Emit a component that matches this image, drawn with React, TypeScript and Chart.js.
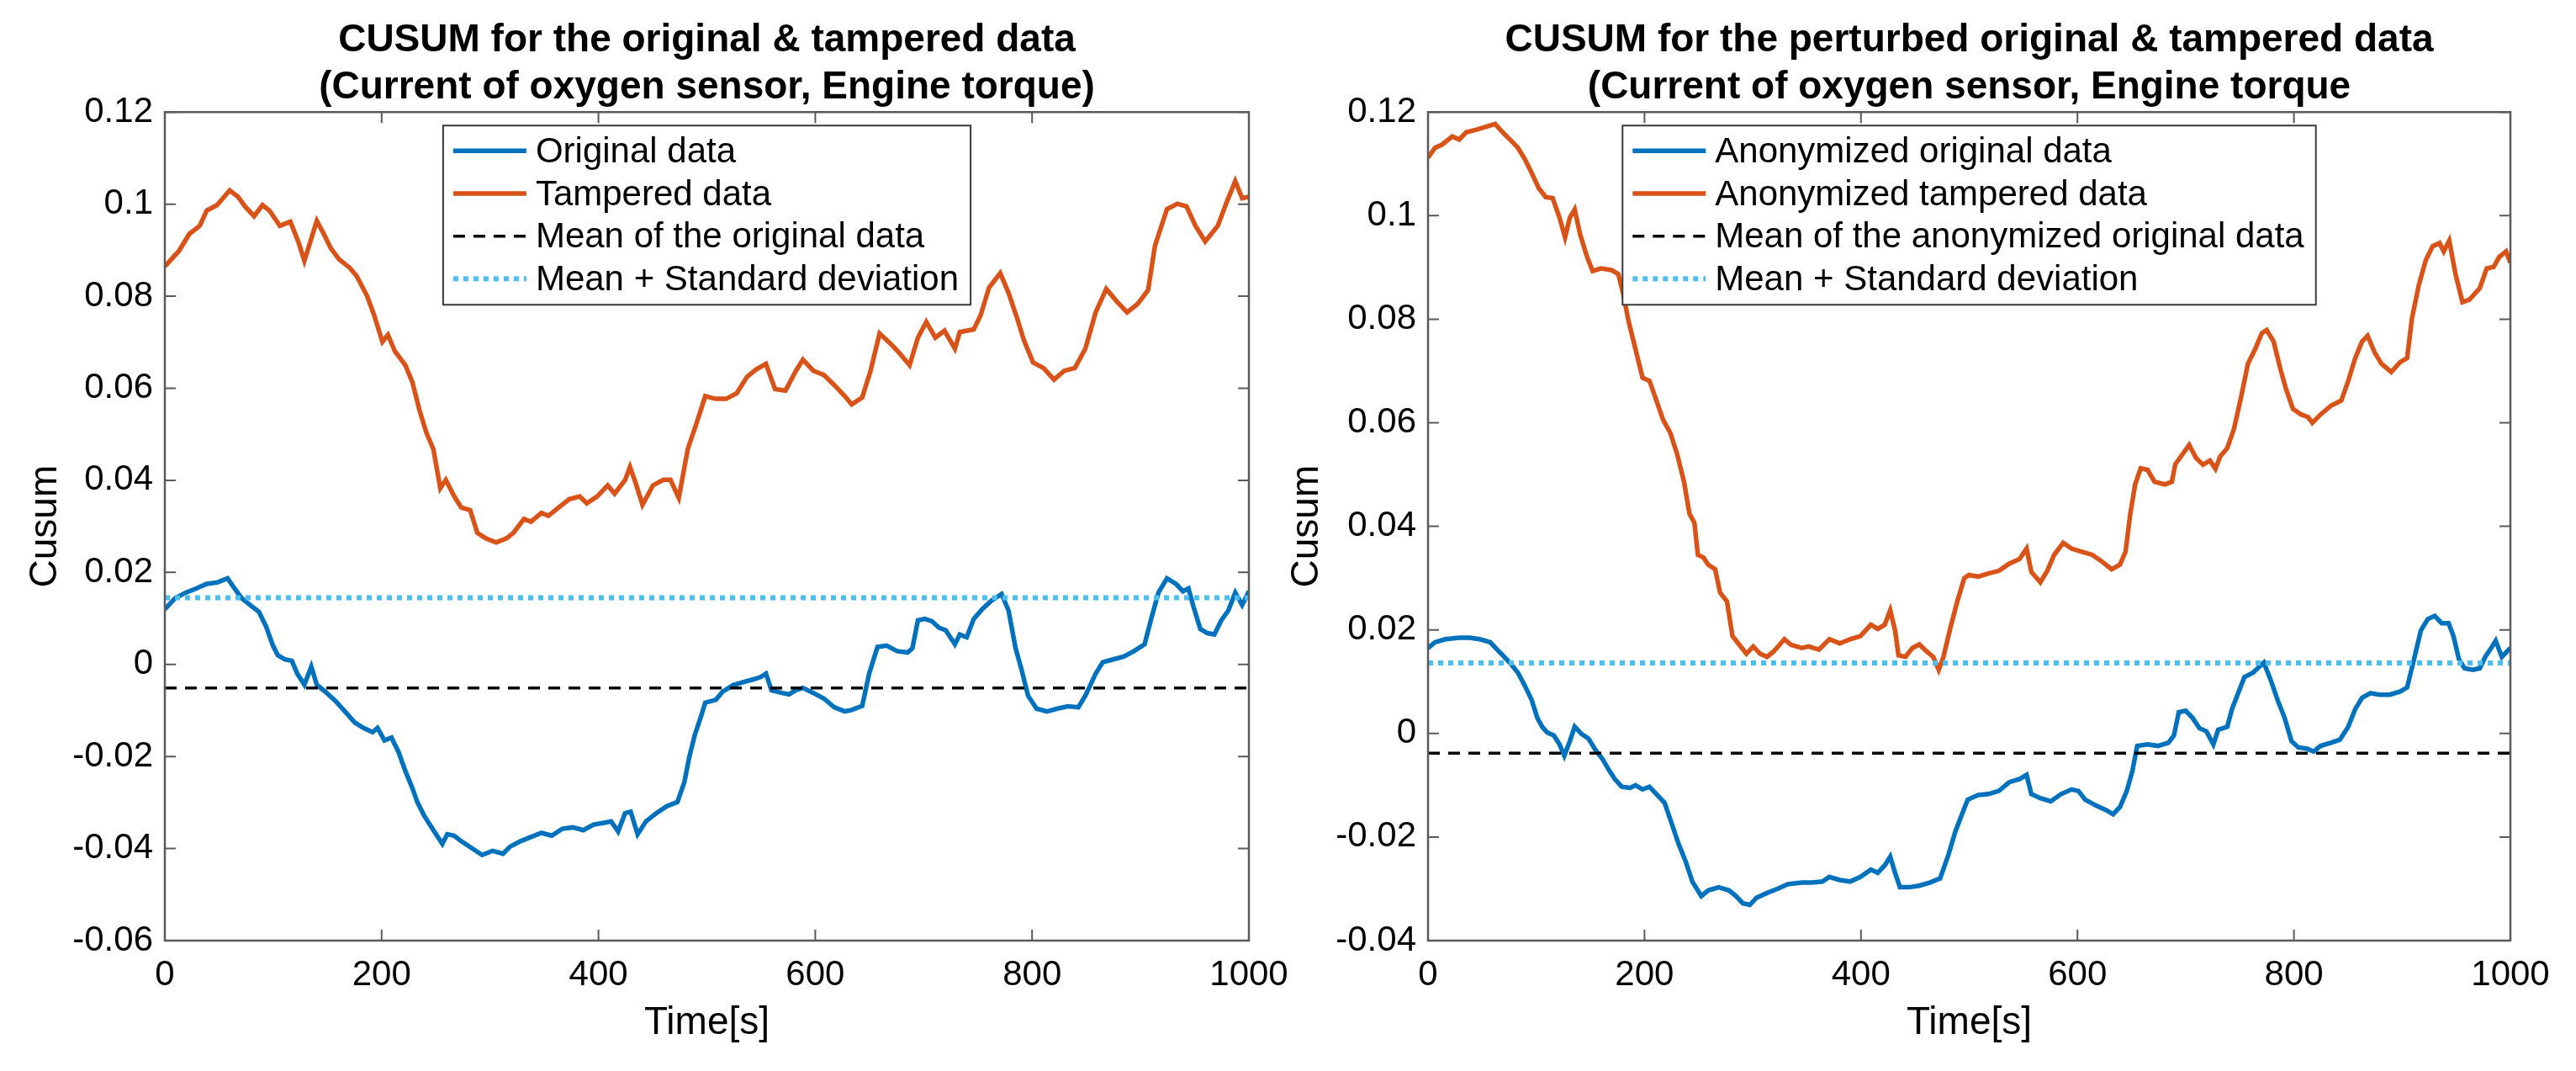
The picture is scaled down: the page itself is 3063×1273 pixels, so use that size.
import React, { useEffect, useRef } from "react";
import { Chart, registerables } from "chart.js";

Chart.register(...registerables);

const FONT = "'Liberation Sans', Arial, Helvetica, sans-serif";

// ---------- axis ticks ----------
const xTicks = [0, 200, 400, 600, 800, 1000];
const leftYTicks = [-0.06, -0.04, -0.02, 0, 0.02, 0.04, 0.06, 0.08, 0.1, 0.12];
const rightYTicks = [-0.04, -0.02, 0, 0.02, 0.04, 0.06, 0.08, 0.1, 0.12];

// ---------- left plot: original & tampered ----------
const leftOriginalTime = [0, 9.6, 19.3, 28.9, 38.6, 48.2, 57.9, 64.3, 70.8, 80.4, 86.8, 93.3, 99.7, 104.2, 110.6, 117.1, 122.2, 128.7, 135.1, 140.2, 147.9, 157.6, 167.2, 175.0, 183.3, 191.7, 196.2, 202.6, 209.1, 215.5, 221.9, 228.4, 232.9, 239.3, 247.7, 256.0, 260.5, 266.9, 273.4, 283.0, 292.7, 302.3, 312.0, 318.4, 328.1, 337.7, 347.4, 357.0, 366.7, 376.3, 386.0, 395.6, 405.2, 411.7, 418.1, 424.6, 429.7, 436.1, 443.8, 453.5, 463.1, 472.8, 479.2, 483.7, 488.9, 494.0, 498.5, 508.2, 514.6, 524.3, 533.9, 543.6, 550.0, 554.5, 559.6, 569.3, 575.7, 582.1, 588.6, 598.2, 607.9, 617.5, 627.2, 633.6, 643.3, 649.7, 657.4, 665.8, 675.4, 685.1, 689.6, 694.7, 701.1, 707.6, 714.0, 720.4, 728.8, 733.3, 739.7, 746.2, 753.9, 762.3, 771.9, 778.3, 784.8, 789.9, 796.3, 804.1, 813.7, 823.4, 833.0, 842.7, 849.1, 858.7, 865.2, 874.8, 884.5, 894.1, 903.8, 910.2, 916.6, 924.4, 932.7, 939.2, 944.3, 948.8, 955.2, 961.7, 968.1, 974.6, 981.0, 987.4, 993.8, 1000];
const leftOriginalCusum = [0.0120, 0.0144, 0.0156, 0.0165, 0.0175, 0.0178, 0.0187, 0.0165, 0.0144, 0.0126, 0.0114, 0.0083, 0.0041, 0.0020, 0.0011, 0.0008, -0.0020, -0.0044, -0.0005, -0.0044, -0.0059, -0.0080, -0.0105, -0.0126, -0.0138, -0.0147, -0.0138, -0.0165, -0.0159, -0.0190, -0.0232, -0.0269, -0.0299, -0.0329, -0.0360, -0.0390, -0.0369, -0.0372, -0.0384, -0.0399, -0.0414, -0.0405, -0.0411, -0.0396, -0.0384, -0.0375, -0.0366, -0.0372, -0.0357, -0.0354, -0.0360, -0.0348, -0.0344, -0.0341, -0.0363, -0.0323, -0.0320, -0.0369, -0.0341, -0.0323, -0.0308, -0.0299, -0.0256, -0.0202, -0.0153, -0.0117, -0.0083, -0.0077, -0.0059, -0.0045, -0.0038, -0.0032, -0.0027, -0.0020, -0.0056, -0.0062, -0.0065, -0.0056, -0.0051, -0.0062, -0.0074, -0.0093, -0.0102, -0.0099, -0.0090, -0.0020, 0.0038, 0.0041, 0.0029, 0.0026, 0.0035, 0.0096, 0.0099, 0.0094, 0.0080, 0.0074, 0.0044, 0.0065, 0.0059, 0.0099, 0.0120, 0.0138, 0.0153, 0.0117, 0.0035, -0.0008, -0.0068, -0.0096, -0.0102, -0.0096, -0.0091, -0.0093, -0.0068, -0.0020, 0.0005, 0.0011, 0.0017, 0.0029, 0.0044, 0.0102, 0.0156, 0.0187, 0.0175, 0.0159, 0.0165, 0.0126, 0.0077, 0.0068, 0.0065, 0.0096, 0.0117, 0.0156, 0.0129, 0.0159];

const leftTamperedTime = [0, 12.9, 22.5, 32.2, 38.6, 48.2, 59.8, 67.5, 74.0, 82.3, 90.1, 96.5, 106.1, 115.8, 123.5, 128.7, 135.1, 140.2, 146.7, 153.1, 160.8, 170.5, 176.9, 186.5, 193.0, 200.7, 205.8, 212.3, 221.9, 228.4, 234.8, 241.2, 247.7, 254.1, 259.2, 267.0, 273.4, 281.7, 288.2, 295.9, 305.6, 315.2, 321.6, 331.3, 337.7, 347.4, 353.8, 363.4, 373.1, 382.7, 389.2, 398.8, 408.5, 414.9, 424.6, 429.1, 434.2, 440.6, 450.3, 459.9, 466.4, 474.1, 482.4, 490.2, 498.5, 508.2, 517.8, 527.5, 537.1, 545.5, 554.5, 562.9, 572.5, 582.2, 588.6, 598.2, 607.9, 617.5, 627.2, 633.6, 643.3, 651.0, 659.3, 669.0, 678.6, 687.0, 694.7, 702.4, 710.8, 719.2, 728.8, 733.3, 746.2, 752.6, 760.3, 770.6, 778.3, 786.1, 792.5, 800.9, 810.5, 820.2, 829.8, 839.5, 849.1, 858.7, 868.4, 878.0, 887.7, 897.3, 907.0, 913.4, 924.4, 934.0, 942.4, 950.7, 959.7, 971.3, 979.0, 987.4, 993.8, 1000];
const leftTamperedCusum = [0.0865, 0.0898, 0.0935, 0.0953, 0.0986, 0.0998, 0.1030, 0.1016, 0.0995, 0.0974, 0.0998, 0.0986, 0.0953, 0.0962, 0.0916, 0.0877, 0.0925, 0.0964, 0.0935, 0.0904, 0.0880, 0.0862, 0.0844, 0.0801, 0.0759, 0.0701, 0.0716, 0.0680, 0.0650, 0.0613, 0.0553, 0.0504, 0.0468, 0.0383, 0.0401, 0.0365, 0.0341, 0.0335, 0.0286, 0.0274, 0.0265, 0.0274, 0.0286, 0.0316, 0.0310, 0.0329, 0.0323, 0.0341, 0.0359, 0.0365, 0.0350, 0.0365, 0.0389, 0.0371, 0.0401, 0.0429, 0.0395, 0.0347, 0.0389, 0.0401, 0.0401, 0.0362, 0.0468, 0.0522, 0.0583, 0.0577, 0.0577, 0.0589, 0.0625, 0.0641, 0.0653, 0.0598, 0.0595, 0.0638, 0.0662, 0.0638, 0.0629, 0.0607, 0.0583, 0.0565, 0.0580, 0.0638, 0.0719, 0.0698, 0.0674, 0.0650, 0.0710, 0.0744, 0.0710, 0.0725, 0.0686, 0.0722, 0.0728, 0.0759, 0.0819, 0.0850, 0.0807, 0.0753, 0.0704, 0.0656, 0.0644, 0.0619, 0.0638, 0.0644, 0.0686, 0.0765, 0.0816, 0.0789, 0.0765, 0.0783, 0.0813, 0.0910, 0.0989, 0.1001, 0.0995, 0.0953, 0.0919, 0.0953, 0.1001, 0.1050, 0.1013, 0.1016];

const leftMean = -0.0051;
const leftMeanPlusStd = 0.0145;

// ---------- right plot: perturbed (anonymized) original & tampered ----------
const rightOriginalTime = [0, 6.4, 16.0, 28.8, 38.4, 47.9, 57.5, 63.9, 70.3, 76.7, 83.1, 89.5, 95.9, 101.0, 105.5, 110.0, 116.3, 121.5, 125.9, 131.0, 135.5, 141.9, 148.3, 154.7, 161.1, 167.5, 172.6, 179.0, 186.7, 191.8, 198.2, 204.6, 211.0, 218.6, 225.0, 231.4, 237.8, 244.2, 252.5, 258.9, 268.5, 278.1, 284.5, 290.9, 297.3, 303.6, 313.2, 322.8, 332.4, 345.2, 354.8, 364.4, 370.8, 380.4, 389.9, 399.5, 409.1, 415.5, 421.9, 427.0, 431.5, 436.0, 444.3, 453.9, 463.5, 473.1, 480.7, 487.1, 492.2, 498.6, 508.2, 517.8, 527.4, 537.0, 546.6, 553.0, 557.4, 565.7, 575.3, 584.9, 594.5, 600.9, 607.3, 616.9, 626.5, 632.9, 639.3, 645.6, 650.8, 655.2, 664.8, 674.4, 684.0, 689.1, 693.6, 700.0, 706.4, 712.8, 719.2, 725.6, 730.0, 738.4, 742.8, 747.9, 754.3, 762.0, 772.2, 778.6, 785.0, 791.4, 797.8, 804.2, 811.8, 818.2, 824.6, 834.2, 842.5, 850.2, 856.6, 863.0, 870.7, 879.0, 888.6, 898.2, 904.6, 910.9, 917.3, 923.7, 930.1, 936.5, 942.9, 947.4, 952.5, 957.6, 965.3, 971.7, 976.8, 981.3, 986.4, 992.1, 1000];
const rightOriginalCusum = [0.0165, 0.0176, 0.0182, 0.0185, 0.0185, 0.0182, 0.0176, 0.0162, 0.0148, 0.0134, 0.0117, 0.0092, 0.0064, 0.0030, 0.0013, 0.0002, -0.0004, -0.0021, -0.0043, -0.0015, 0.0013, -0.0001, -0.0010, -0.0032, -0.0049, -0.0072, -0.0088, -0.0103, -0.0105, -0.0100, -0.0108, -0.0103, -0.0117, -0.0134, -0.0173, -0.0213, -0.0246, -0.0286, -0.0314, -0.0303, -0.0297, -0.0303, -0.0314, -0.0328, -0.0331, -0.0317, -0.0308, -0.0300, -0.0291, -0.0288, -0.0288, -0.0286, -0.0277, -0.0283, -0.0286, -0.0277, -0.0263, -0.0269, -0.0255, -0.0238, -0.0269, -0.0297, -0.0297, -0.0294, -0.0288, -0.0280, -0.0235, -0.0190, -0.0162, -0.0128, -0.0119, -0.0117, -0.0111, -0.0094, -0.0088, -0.0080, -0.0117, -0.0125, -0.0131, -0.0117, -0.0108, -0.0111, -0.0128, -0.0139, -0.0148, -0.0156, -0.0142, -0.0111, -0.0072, -0.0024, -0.0021, -0.0024, -0.0018, -0.0004, 0.0041, 0.0044, 0.0030, 0.0010, 0.0004, -0.0021, 0.0007, 0.0013, 0.0047, 0.0075, 0.0109, 0.0117, 0.0137, 0.0103, 0.0064, 0.0030, -0.0015, -0.0027, -0.0029, -0.0035, -0.0024, -0.0018, -0.0012, 0.0013, 0.0047, 0.0069, 0.0078, 0.0075, 0.0075, 0.0081, 0.0089, 0.0143, 0.0199, 0.0221, 0.0227, 0.0213, 0.0213, 0.0188, 0.0143, 0.0126, 0.0123, 0.0126, 0.0148, 0.0162, 0.0179, 0.0148, 0.0165];

const rightTamperedTime = [0, 6.4, 12.8, 22.4, 28.8, 35.2, 44.7, 54.3, 62.0, 70.3, 76.7, 83.1, 89.5, 95.9, 102.3, 108.7, 115.1, 121.5, 126.6, 131.0, 135.5, 140.6, 147.0, 152.1, 159.8, 169.4, 175.8, 180.3, 185.4, 191.8, 198.2, 204.6, 211.0, 217.3, 223.7, 230.1, 236.5, 241.6, 246.1, 249.3, 254.4, 258.9, 265.3, 269.8, 276.2, 281.3, 287.7, 294.1, 300.5, 306.8, 313.2, 319.6, 329.2, 335.6, 345.2, 351.6, 361.2, 370.8, 380.4, 389.9, 399.5, 409.1, 415.5, 421.9, 427.0, 431.5, 434.7, 441.1, 447.5, 453.9, 460.3, 466.7, 471.8, 476.2, 482.6, 489.0, 495.4, 499.9, 508.2, 517.8, 527.4, 537.0, 546.6, 553.0, 557.4, 565.7, 572.1, 578.5, 586.8, 594.5, 604.1, 613.7, 623.3, 631.6, 639.3, 644.4, 648.8, 653.3, 658.4, 664.8, 671.2, 680.8, 687.2, 690.4, 703.2, 709.6, 716.0, 722.4, 727.5, 731.9, 738.4, 744.7, 751.1, 757.5, 763.9, 770.3, 774.8, 781.2, 787.6, 792.7, 799.1, 806.7, 813.1, 817.0, 824.6, 834.2, 843.8, 850.2, 856.6, 863.0, 868.1, 874.5, 880.9, 889.9, 898.2, 904.6, 909.0, 915.4, 921.8, 928.2, 934.6, 938.4, 943.5, 949.3, 955.7, 962.1, 971.7, 978.1, 984.5, 989.6, 996.0, 1000];
const rightTamperedCusum = [0.1112, 0.1131, 0.1137, 0.1153, 0.1147, 0.1161, 0.1166, 0.1172, 0.1177, 0.1158, 0.1145, 0.1131, 0.1109, 0.1082, 0.1053, 0.1036, 0.1034, 0.0996, 0.0958, 0.0996, 0.1012, 0.0963, 0.0920, 0.0893, 0.0898, 0.0895, 0.0887, 0.0849, 0.0795, 0.0741, 0.0687, 0.0681, 0.0643, 0.0605, 0.0581, 0.0540, 0.0486, 0.0424, 0.0407, 0.0345, 0.0340, 0.0326, 0.0317, 0.0272, 0.0255, 0.0188, 0.0171, 0.0154, 0.0168, 0.0154, 0.0148, 0.0159, 0.0182, 0.0171, 0.0165, 0.0168, 0.0162, 0.0182, 0.0174, 0.0182, 0.0188, 0.0210, 0.0202, 0.0210, 0.0238, 0.0199, 0.0151, 0.0148, 0.0165, 0.0172, 0.0159, 0.0148, 0.0123, 0.0148, 0.0204, 0.0255, 0.0300, 0.0306, 0.0303, 0.0309, 0.0314, 0.0328, 0.0337, 0.0357, 0.0312, 0.0292, 0.0314, 0.0345, 0.0368, 0.0357, 0.0351, 0.0345, 0.0331, 0.0317, 0.0326, 0.0351, 0.0424, 0.0481, 0.0512, 0.0509, 0.0486, 0.0481, 0.0486, 0.0520, 0.0557, 0.0532, 0.0519, 0.0527, 0.0511, 0.0535, 0.0551, 0.0589, 0.0649, 0.0714, 0.0741, 0.0773, 0.0779, 0.0757, 0.0703, 0.0665, 0.0627, 0.0616, 0.0611, 0.0600, 0.0616, 0.0633, 0.0643, 0.0681, 0.0725, 0.0757, 0.0768, 0.0736, 0.0714, 0.0698, 0.0717, 0.0725, 0.0801, 0.0866, 0.0914, 0.0941, 0.0947, 0.0931, 0.0952, 0.0887, 0.0833, 0.0838, 0.0860, 0.0898, 0.0901, 0.0920, 0.0931, 0.0909];

const rightMean = -0.0038;
const rightMeanPlusStd = 0.0136;

// ---------- texts ----------
const leftTitle = ["CUSUM for the original & tampered data", "(Current of oxygen sensor, Engine torque)"];
const rightTitle = ["CUSUM for the perturbed original & tampered data", "(Current of oxygen sensor, Engine torque"];
const leftLabels = ["Original data", "Tampered data", "Mean of the original data", "Mean + Standard deviation"];
const rightLabels = ["Anonymized original data", "Anonymized tampered data", "Mean of the anonymized original data", "Mean + Standard deviation"];
const xAxisTitle = "Time[s]";
const yAxisTitle = "Cusum";

// ---------- helpers ----------
const zip = (t: number[], v: number[]) => t.map((x, i) => ({ x, y: v[i] }));
const fmt = (v: number) => String(Math.round(v * 100) / 100);

const AXIS_COLOR = "#5a5a5a";

const matlabPlugin = {
  id: "matlabFrameLegend",
  beforeDatasetsDraw(chart: any) {
    const { ctx, chartArea: a, scales } = chart;
    ctx.save();
    ctx.strokeStyle = AXIS_COLOR;
    ctx.lineWidth = 2;
    const tl = 13;
    scales.x.ticks.forEach((t: any) => {
      const px = scales.x.getPixelForValue(t.value);
      ctx.beginPath();
      ctx.moveTo(px, a.bottom);
      ctx.lineTo(px, a.bottom - tl);
      ctx.moveTo(px, a.top);
      ctx.lineTo(px, a.top + tl);
      ctx.stroke();
    });
    scales.y.ticks.forEach((t: any) => {
      const py = scales.y.getPixelForValue(t.value);
      ctx.beginPath();
      ctx.moveTo(a.left, py);
      ctx.lineTo(a.left + tl, py);
      ctx.moveTo(a.right, py);
      ctx.lineTo(a.right - tl, py);
      ctx.stroke();
    });
    ctx.restore();
  },
  afterDatasetsDraw(chart: any) {
    const { ctx, chartArea: a } = chart;
    ctx.save();
    ctx.strokeStyle = AXIS_COLOR;
    ctx.lineWidth = 2.5;
    ctx.strokeRect(a.left, a.top, a.right - a.left, a.bottom - a.top);

    // legend (location: north)
    const ds = chart.data.datasets;
    ctx.font = `42px ${FONT}`;
    const maxW = Math.max(...ds.map((d: any) => ctx.measureText(d.label).width));
    const padL = 12, sample = 87, gap = 11, padR = 14;
    const w = padL + sample + gap + maxW + padR;
    const h = 213;
    const x0 = (a.left + a.right) / 2 - w / 2;
    const y0 = a.top + 16;
    ctx.fillStyle = "#ffffff";
    ctx.fillRect(x0, y0, w, h);
    ctx.strokeStyle = "#3a3a3a";
    ctx.lineWidth = 2;
    ctx.strokeRect(x0, y0, w, h);
    ds.forEach((d: any, i: number) => {
      const cy = y0 + 30 + i * 50.7;
      ctx.beginPath();
      ctx.setLineDash(d.borderDash || []);
      ctx.lineCap = "butt";
      ctx.lineWidth = d.borderWidth;
      ctx.strokeStyle = d.borderColor;
      ctx.moveTo(x0 + padL, cy);
      ctx.lineTo(x0 + padL + sample, cy);
      ctx.stroke();
      ctx.setLineDash([]);
      ctx.fillStyle = "#000000";
      ctx.textBaseline = "middle";
      ctx.textAlign = "left";
      ctx.fillText(d.label, x0 + padL + sample + gap, cy + 2);
    });
    ctx.restore();
  },
};

type Spec = {
  title: string[];
  labels: string[];
  origT: number[];
  origV: number[];
  tampT: number[];
  tampV: number[];
  mean: number;
  meanStd: number;
  yTicks: number[];
  yWidth: number;
  padRight: number;
};

function makeConfig(s: Spec): any {
  const yMin = s.yTicks[0];
  const yMax = s.yTicks[s.yTicks.length - 1];
  return {
    type: "line",
    data: {
      datasets: [
        { label: s.labels[0], data: zip(s.origT, s.origV), borderColor: "#0072BD", borderWidth: 5.5, pointRadius: 0, tension: 0, order: 4 },
        { label: s.labels[1], data: zip(s.tampT, s.tampV), borderColor: "#D95319", borderWidth: 5.5, pointRadius: 0, tension: 0, order: 3 },
        { label: s.labels[2], data: [{ x: 0, y: s.mean }, { x: 1000, y: s.mean }], borderColor: "#000000", borderWidth: 3.5, borderDash: [14, 10], pointRadius: 0, order: 2 },
        { label: s.labels[3], data: [{ x: 0, y: s.meanStd }, { x: 1000, y: s.meanStd }], borderColor: "#4DBEEE", borderWidth: 6, borderDash: [6, 6], pointRadius: 0, order: 1 },
      ],
    },
    options: {
      animation: false,
      responsive: true,
      maintainAspectRatio: false,
      events: [],
      layout: { padding: { left: 0, right: s.padRight, top: 0, bottom: 0 } },
      plugins: {
        legend: { display: false },
        tooltip: { enabled: false },
        title: {
          display: true,
          text: s.title,
          fullSize: false,
          color: "#000000",
          font: { family: FONT, size: 46, weight: "bold", lineHeight: 1.22 },
          padding: { top: 20, bottom: 1 },
        },
      },
      scales: {
        x: {
          type: "linear",
          min: 0,
          max: 1000,
          afterBuildTicks: (sc: any) => { sc.ticks = xTicks.map((v) => ({ value: v })); },
          afterFit: (sc: any) => { sc.height = 155; },
          grid: { display: false, drawTicks: false },
          border: { display: false },
          ticks: { autoSkip: false, maxRotation: 0, padding: 16, color: "#000000", font: { family: FONT, size: 42 }, callback: (v: number) => fmt(v) },
          title: { display: true, text: xAxisTitle, color: "#000000", font: { family: FONT, size: 46 }, padding: { top: 0, bottom: 29 } },
        },
        y: {
          type: "linear",
          min: yMin,
          max: yMax,
          afterBuildTicks: (sc: any) => { sc.ticks = s.yTicks.map((v) => ({ value: v })); },
          afterFit: (sc: any) => { sc.width = s.yWidth; },
          grid: { display: false, drawTicks: false },
          border: { display: false },
          ticks: { autoSkip: false, padding: 14, color: "#000000", font: { family: FONT, size: 42 }, callback: (v: number) => fmt(v) },
          title: { display: true, text: yAxisTitle, color: "#000000", font: { family: FONT, size: 46 }, padding: { top: 27, bottom: 0 } },
        },
      },
    },
    plugins: [matlabPlugin],
  };
}

function CusumChart({ spec, left, width }: { spec: Spec; left: number; width: number }) {
  const ref = useRef<HTMLCanvasElement | null>(null);
  useEffect(() => {
    if (!ref.current) return;
    const chart = new Chart(ref.current, makeConfig(spec));
    return () => chart.destroy();
  }, []);
  return (
    <div style={{ position: "absolute", left, top: 0, width, height: 1273 }}>
      <canvas ref={ref} />
    </div>
  );
}

const leftSpec: Spec = {
  title: leftTitle,
  labels: leftLabels,
  origT: leftOriginalTime,
  origV: leftOriginalCusum,
  tampT: leftTamperedTime,
  tampV: leftTamperedCusum,
  mean: leftMean,
  meanStd: leftMeanPlusStd,
  yTicks: leftYTicks,
  yWidth: 196,
  padRight: 95,
};

const rightSpec: Spec = {
  title: rightTitle,
  labels: rightLabels,
  origT: rightOriginalTime,
  origV: rightOriginalCusum,
  tampT: rightTamperedTime,
  tampV: rightTamperedCusum,
  mean: rightMean,
  meanStd: rightMeanPlusStd,
  yTicks: rightYTicks,
  yWidth: 198,
  padRight: 78,
};

export default function App() {
  return (
    <div style={{ position: "absolute", left: 0, top: 0, width: 3063, height: 1273, background: "#ffffff", overflow: "hidden" }}>
      <CusumChart spec={leftSpec} left={0} width={1580} />
      <CusumChart spec={rightSpec} left={1500} width={1563} />
    </div>
  );
}
